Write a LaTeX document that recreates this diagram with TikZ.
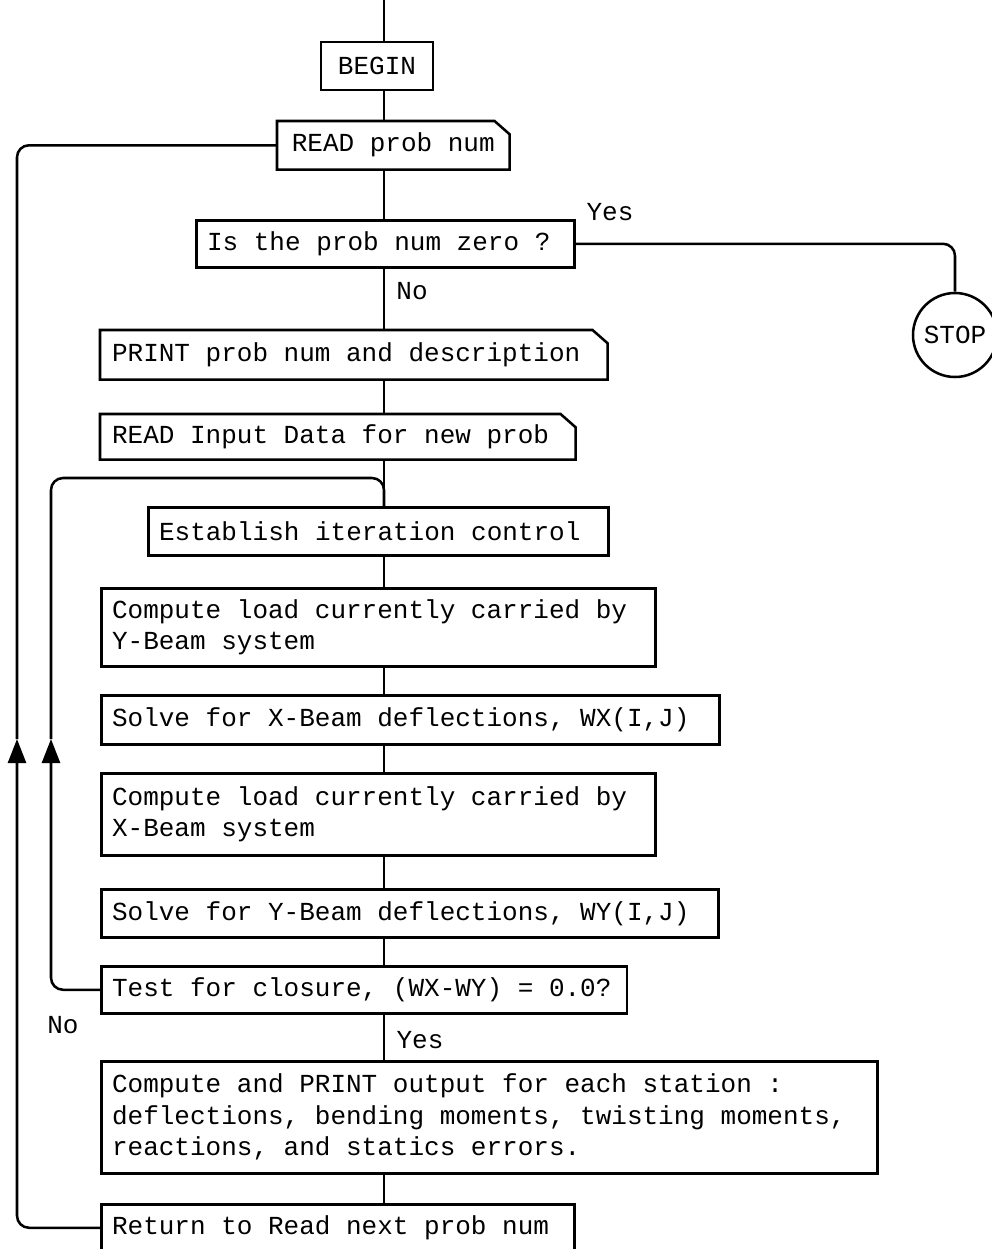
\documentclass[tikz,border=0pt]{standalone}
\usepackage{fontspec}
\newfontfamily\tw{Liberation Mono}
\usepackage{tikz}
\usetikzlibrary{positioning,calc,arrows.meta}

\begin{document}
\begin{tikzpicture}[font={\tw\fontsize{18.5pt}{22.4pt}\selectfont},
 ln/.style={line width=1.8pt},
 b/.style={draw,line width=1.8pt,inner xsep=0.27cm,inner ysep=0pt},
 lb/.style={b,anchor=north west,execute at begin node={\spaceskip=0.6em\xspaceskip=0.6em\relax}},
 card/.style={lb,draw=none},
 up/.style={ln,-{Triangle[length=6mm,width=4.5mm]}}]
\useasboundingbox (0,0) rectangle (24.8,-31.225);
\coordinate (spine) at (9.6,0);
\node[b,minimum width=2.8cm,minimum height=1.2cm] (begin) at (9.425,-1.65) {BEGIN};
\node[card,minimum width=5.75cm,minimum height=1.15cm] (readp) at (6.925,-3.025) {READ prob num};
\node[lb,text width=8.91cm,minimum height=1.175cm] (iszero) at (4.875,-5.475) {Is the prob num zero ?};
\node[circle,draw,line width=1.8pt,minimum size=2.1cm,inner sep=0pt] (stop) at (23.875,-8.375) {STOP};
\node[card,text width=12.085cm,minimum height=1.175cm] (print) at (2.5,-8.25) {PRINT prob num and description};
\node[card,text width=11.285cm,minimum height=1.075cm] (readin) at (2.5,-10.35) {READ Input Data for new prob};
\node[lb,text width=10.96cm,minimum height=1.2cm] (establish) at (3.675,-12.65) {Establish iteration control};
\node[lb,text width=13.31cm,minimum height=1.95cm] (cly) at (2.5,-14.675) {Compute load currently carried by\\Y-Beam system};
\node[lb,text width=14.91cm,minimum height=1.225cm] (sx) at (2.5,-17.35) {Solve for X-Beam deflections, WX(I,J)};
\node[lb,text width=13.31cm,minimum height=2.05cm] (clx) at (2.5,-19.3) {Compute load currently carried by\\X-Beam system};
\node[lb,text width=14.885cm,minimum height=1.2cm] (sy) at (2.5,-22.2) {Solve for Y-Beam deflections, WY(I,J)};
\node[lb,text width=12.6cm,minimum height=1.175cm] (test) at (2.5,-24.125) {Test for closure, (WX-WY) = 0.0?};
\node[lb,text width=18.86cm,minimum height=2.8cm] (cpr) at (2.5,-26.5)
 {Compute and PRINT output for each station :\\deflections, bending moments, twisting moments,\\reactions, and statics errors.};
\node[lb,text width=11.285cm,minimum height=1.175cm] (ret) at (2.5,-30.075) {Return to Read next prob num};
% READ/PRINT boxes get a clipped top right corner
\foreach \n in {readp,print,readin}
 \draw[ln] (\n.south west) -- (\n.north west) -- ([xshift=-0.375cm]\n.north east)
  -- ([yshift=-0.33cm]\n.north east) -- (\n.south east) -- cycle;
% labels on the branches
\node (yes1) at (15.25,-5.3) {Yes};
\node (no1) at (10.3,-7.275) {No};
\node (no2) at (1.575,-25.625) {No};
\node (yes2) at (10.5,-26.0) {Yes};
% main line down the middle
\draw[ln] (spine) -- (spine |- begin.north);
\foreach \a/\z in {begin/readp,readp/iszero,iszero/print,print/readin,readin/establish,
 establish/cly,cly/sx,sx/clx,clx/sy,sy/test,test/cpr,cpr/ret}
 \draw[ln] (spine |- \a.south) -- (spine |- \z.north);
\draw[ln,rounded corners=0.3cm] (iszero.east) -| (stop.north);
% loops back up the left side
\coordinate (up1) at (0.425,-18.475);
\coordinate (up2) at (1.275,-18.475);
\coordinate (join) at (9.6,-11.95);
\draw[up,rounded corners=0.3cm] (ret.west) -| (up1);
\draw[ln,rounded corners=0.3cm] (up1) |- (readp.west);
\draw[up,rounded corners=0.3cm] (test.west) -| (up2);
\draw[ln,rounded corners=0.3cm] (up2) |- (join) -- (join |- establish.north);
\end{tikzpicture}
\end{document}
